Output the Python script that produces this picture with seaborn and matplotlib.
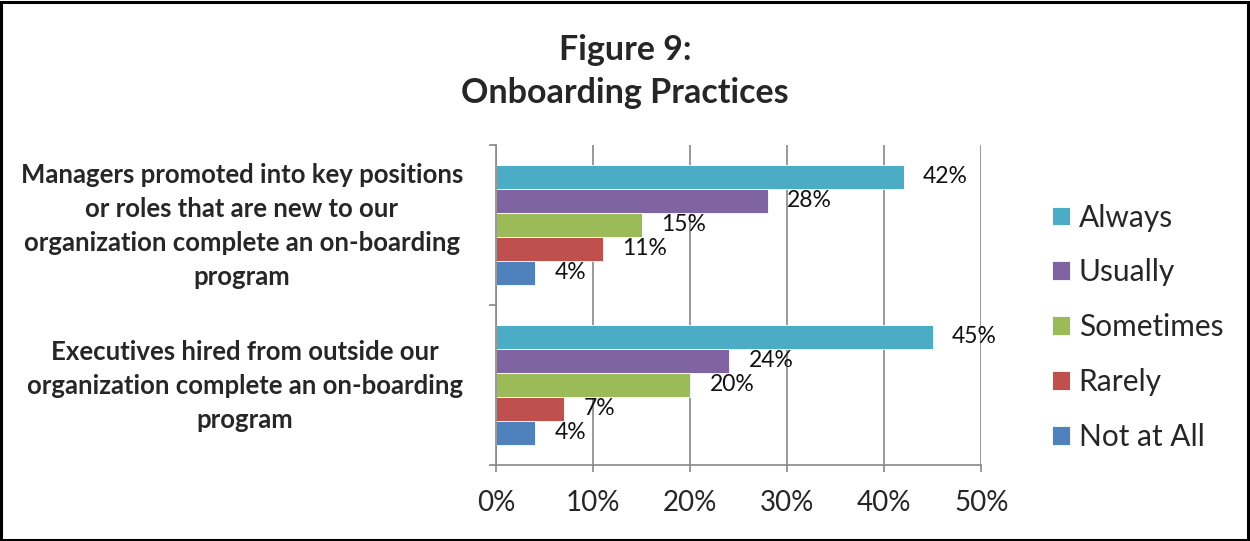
import pandas as pd
import matplotlib.pyplot as plt
import matplotlib.transforms as mtransforms
import seaborn as sns
from matplotlib.patches import Rectangle
from matplotlib.ticker import FuncFormatter

plt.switch_backend('Agg')

# chart data
statements = [
    'Managers promoted into key positions\nor roles that are new to our\norganization complete an on-boarding\nprogram',
    'Executives hired from outside our\norganization complete an on-boarding\nprogram',
]
responses = ['Always', 'Usually', 'Sometimes', 'Rarely', 'Not at All']
managers = [42, 28, 15, 11, 4]
executives = [45, 24, 20, 7, 4]
colors = ['#4BACC6', '#8064A2', '#9BBB59', '#C0504D', '#4F81BD']
x_ticks = [0, 10, 20, 30, 40, 50]

rows = []
for stmt, vals in zip(statements, [managers, executives]):
    for resp, v in zip(responses, vals):
        rows.append({'statement': stmt, 'response': resp, 'pct': v})
df = pd.DataFrame(rows)

sns.set_style('white')
plt.rcParams['font.family'] = ['Lato', 'DejaVu Sans']

fig = plt.figure(figsize=(12.5, 5.41), dpi=100)
ax = fig.add_axes([0.397, 0.1405, 0.388, 0.592])

sns.barplot(data=df, y='statement', x='pct', hue='response', order=statements,
            hue_order=responses, palette=colors, orient='h', width=0.75,
            saturation=1, ax=ax, edgecolor='white', linewidth=0.6)

for cont in ax.containers:
    ax.bar_label(cont, labels=[f'{int(round(w))}%' for w in cont.datavalues],
                 padding=14, fontsize=16.5, color='#111111')

ax.set_xlim(0, 50)
ax.set_ylim(1.5, -0.5)
ax.set_xticks(x_ticks)
ax.xaxis.set_major_formatter(FuncFormatter(lambda v, p: f'{int(v)}%'))
ax.xaxis.grid(True, color='#888888', linewidth=1.2)
ax.set_axisbelow(True)
ax.tick_params(axis='x', labelsize=20, length=5, width=1.2, color='#888888',
               pad=13, direction='out', bottom=True)

ax.set_yticks([0, 1])
ax.set_yticklabels(statements, fontweight='bold', fontsize=18.5,
                   multialignment='center', linespacing=1.5)
ax.set_yticks([-0.5, 0.5, 1.5], minor=True)
ax.tick_params(axis='y', which='major', length=0, pad=24)
ax.tick_params(axis='y', which='minor', length=5, width=1.2, color='#888888',
               left=True)
# nudge the statement labels up a little
shift = mtransforms.ScaledTranslation(0, 6 / 100, fig.dpi_scale_trans)
for lbl in ax.get_yticklabels():
    lbl.set_transform(lbl.get_transform() + shift)
ax.set_xlabel('')
ax.set_ylabel('')

for s in ['top', 'right']:
    ax.spines[s].set_visible(False)
for s in ['left', 'bottom']:
    ax.spines[s].set_color('#888888')
    ax.spines[s].set_linewidth(1.2)

handles, labels = ax.get_legend_handles_labels()
ax.legend(handles, labels, loc='center left', bbox_to_anchor=(1.09, 0.43),
          frameon=False, fontsize=21.5, handlelength=0.6, handleheight=0.6,
          handletextpad=0.3, labelspacing=0.9)

fig.text(0.5, 0.868, 'Figure 9:\nOnboarding Practices', ha='center', va='center',
         fontsize=24.5, fontweight='bold', linespacing=1.45)

fig.patches.append(Rectangle((0.001, 0.002), 0.997, 0.995, transform=fig.transFigure,
                             fill=False, edgecolor='black', linewidth=2.2))

fig.savefig('out.png', dpi=100)
plt.close()
